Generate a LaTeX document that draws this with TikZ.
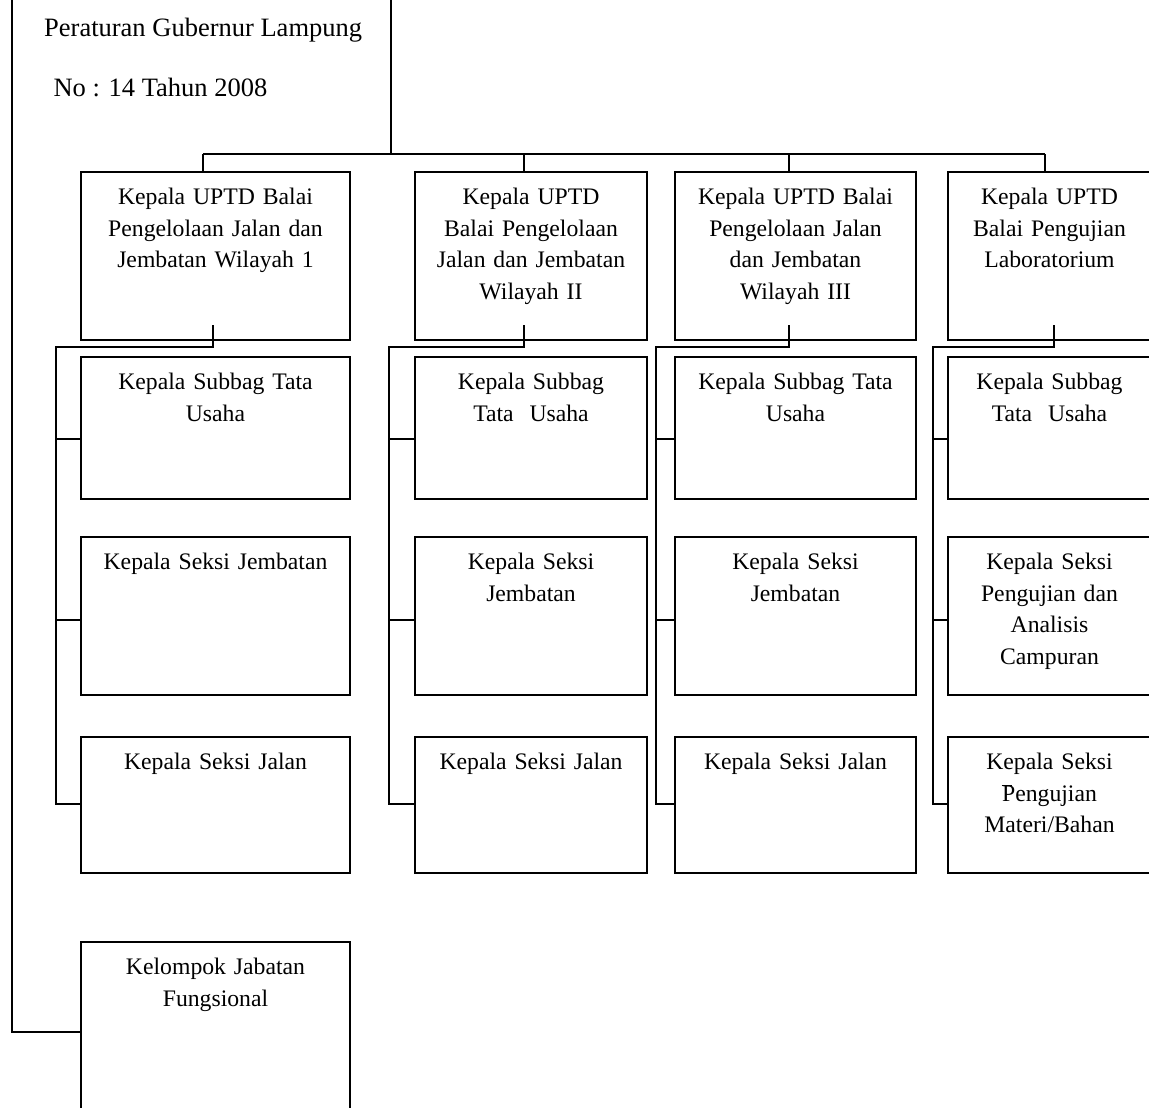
\documentclass[tikz,border=0pt]{standalone}
\usepackage{fontspec}
\setmainfont{Liberation Serif}
\usetikzlibrary{calc}
\begin{document}
\begin{tikzpicture}[x=1pt,y=-1pt,
  ln/.style={line width=1.6pt,black},
  box/.style={draw=black,line width=1.6pt,rectangle,inner sep=0pt,fill=none},
  txt/.style={anchor=base,align=center,inner sep=0pt,font=\fontsize{23.7}{31.5}\selectfont},
  head/.style={anchor=base west,inner sep=0pt,font=\fontsize{26.5}{31}\selectfont}]
\useasboundingbox (0,0) rectangle (1149,1108);
\clip (0,0) rectangle (1149,1108);
% header
\node[head] (h1) at (44,36.5) {Peraturan Gubernur Lampung};
\node[head] (h2) at (53.3,96.7) {No : 14 Tahun 2008};
% column 1
\node[box,minimum width=269pt,minimum height=168pt] (b11) at (215.5,256) {};
\node[box,minimum width=269pt,minimum height=142pt] (b12) at (215.5,428) {};
\node[box,minimum width=269pt,minimum height=158pt] (b13) at (215.5,616) {};
\node[box,minimum width=269pt,minimum height=136pt] (b14) at (215.5,805) {};
\node[box,minimum width=269pt,minimum height=190pt] (b15) at (215.5,1037) {};
\node[txt,text width=260pt] (t11) at (215.5,204.5) {Kepala UPTD Balai\\Pengelolaan Jalan dan\\Jembatan Wilayah 1};
\node[txt,text width=260pt] (t12) at (215.5,389.5) {Kepala Subbag Tata\\Usaha};
\node[txt,text width=260pt] (t13) at (215.5,569.5) {Kepala Seksi Jembatan};
\node[txt,text width=260pt] (t14) at (215.5,769.5) {Kepala Seksi Jalan};
\node[txt,text width=260pt] (t15) at (215.5,974.5) {Kelompok Jabatan\\Fungsional};
% column 2
\node[box,minimum width=232pt,minimum height=168pt] (b21) at (531,256) {};
\node[box,minimum width=232pt,minimum height=142pt] (b22) at (531,428) {};
\node[box,minimum width=232pt,minimum height=158pt] (b23) at (531,616) {};
\node[box,minimum width=232pt,minimum height=136pt] (b24) at (531,805) {};
\node[txt,text width=225pt] (t21) at (531,204.5) {Kepala UPTD\\Balai Pengelolaan\\Jalan dan Jembatan\\Wilayah II};
\node[txt,text width=225pt] (t22) at (531,389.5) {Kepala Subbag\\Tata\ \ Usaha};
\node[txt,text width=225pt] (t23) at (531,569.5) {Kepala Seksi\\Jembatan};
\node[txt,text width=225pt] (t24) at (531,769.5) {Kepala Seksi Jalan};
% column 3
\node[box,minimum width=241pt,minimum height=168pt] (b31) at (795.5,256) {};
\node[box,minimum width=241pt,minimum height=142pt] (b32) at (795.5,428) {};
\node[box,minimum width=241pt,minimum height=158pt] (b33) at (795.5,616) {};
\node[box,minimum width=241pt,minimum height=136pt] (b34) at (795.5,805) {};
\node[txt,text width=234pt] (t31) at (795.5,204.5) {Kepala UPTD Balai\\Pengelolaan Jalan\\dan Jembatan\\Wilayah III};
\node[txt,text width=234pt] (t32) at (795.5,389.5) {Kepala Subbag Tata\\Usaha};
\node[txt,text width=234pt] (t33) at (795.5,569.5) {Kepala Seksi\\Jembatan};
\node[txt,text width=234pt] (t34) at (795.5,769.5) {Kepala Seksi Jalan};
% column 4
\node[box,minimum width=203pt,minimum height=168pt] (b41) at (1049.5,256) {};
\node[box,minimum width=203pt,minimum height=142pt] (b42) at (1049.5,428) {};
\node[box,minimum width=203pt,minimum height=158pt] (b43) at (1049.5,616) {};
\node[box,minimum width=203pt,minimum height=136pt] (b44) at (1049.5,805) {};
\node[txt,text width=198pt] (t41) at (1049.5,204.5) {Kepala UPTD\\Balai Pengujian\\Laboratorium};
\node[txt,text width=198pt] (t42) at (1049.5,389.5) {Kepala Subbag\\Tata\ \ Usaha};
\node[txt,text width=198pt] (t43) at (1049.5,569.5) {Kepala Seksi\\Pengujian dan\\Analisis\\Campuran};
\node[txt,text width=198pt] (t44) at (1049.5,769.5) {Kepala Seksi\\Pengujian\\Materi/Bahan};
\draw[line width=1.2pt] (1001.5,785.5) -- (1011.5,785.5);
% top connectors
\coordinate (top0) at (391,0);
\coordinate (bus) at (391,154);
\coordinate (d1) at (203,154);
\coordinate (d2) at (524,154);
\coordinate (d3) at (789,154);
\coordinate (d4) at (1045,154);
\draw[ln] (top0) -- (bus);
\draw[ln] (d1) -- (d4);
\draw[ln] (d1) -- (d1 |- b11.north);
\draw[ln] (d2) -- (d2 |- b21.north);
\draw[ln] (d3) -- (d3 |- b31.north);
\draw[ln] (d4) -- (d4 |- b41.north);
% left line to Kelompok
\coordinate (left0) at (12,0);
\coordinate (kb) at ($(b15.north west)+(0,91)$);
\draw[ln] (left0) -- (left0 |- kb) -- (kb);
% column branches
\foreach \c/\sx/\vx in {1/213/56, 2/524/389, 3/789/656, 4/1054/933}{
  \coordinate (s\c) at (\sx,325);
  \coordinate (h\c) at (\sx,347);
  \coordinate (v\c) at (\vx,347);
  \coordinate (p\c2) at ($(b\c2.north west)+(0,83)$);
  \coordinate (p\c3) at ($(b\c3.north west)+(0,84)$);
  \coordinate (p\c4) at ($(b\c4.north west)+(0,68)$);
  \draw[ln] (s\c) -- (h\c) -- (v\c) -- (v\c |- p\c4) -- (p\c4);
  \draw[ln] (v\c |- p\c2) -- (p\c2);
  \draw[ln] (v\c |- p\c3) -- (p\c3);
}
\end{tikzpicture}
\end{document}
